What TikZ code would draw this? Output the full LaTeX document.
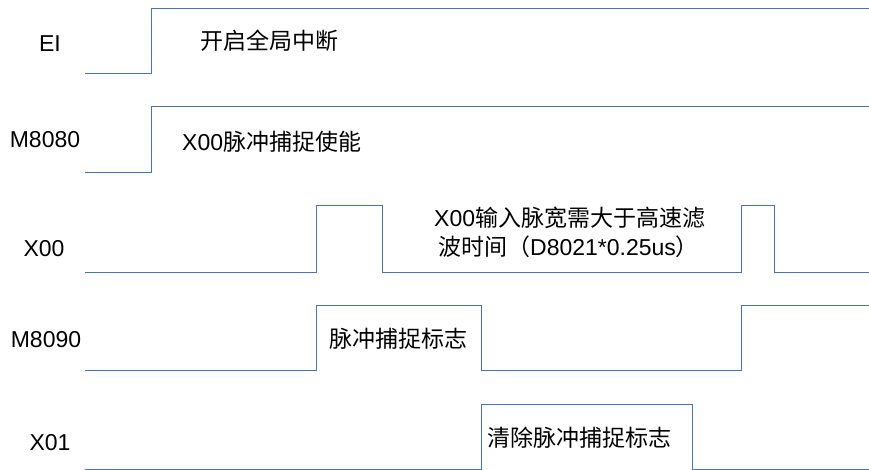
\documentclass[tikz,border=0pt]{standalone}
\usepackage{fontspec}
\setmainfont{Liberation Sans}
\newfontfamily\zhfont{Noto Sans CJK SC}
\newcommand{\zh}[1]{{\zhfont #1}}
\usepackage{tikz}
\usetikzlibrary{positioning}
\definecolor{waveblue}{RGB}{68,114,196}

\begin{document}
\begin{tikzpicture}[
        x=1pt, y=-1pt,
        wave/.style={draw=waveblue, line width=1pt},
        signame/.style={anchor=base, inner sep=0pt, font=\fontsize{23}{28}\selectfont},
        note/.style={anchor=base west, inner sep=0pt, font=\fontsize{23}{28}\selectfont}
    ]
        \useasboundingbox (0,0) rectangle (869,470);

        % Signal names
        \node[signame] (ei) at (50,52) {EI};
        \node[signame] (m8080) at (45,148) {M8080};
        \node[signame] (x00) at (44,256) {X00};
        \node[signame] (m8090) at (46,347) {M8090};
        \node[signame] (x01) at (50,450) {X01};

        % Waveforms
        \draw[wave] (85,74) -- (151,74) -- (151,9) -- (869,9);
        \draw[wave] (85,173) -- (151,173) -- (151,107) -- (869,107);
        \draw[wave] (85,272) -- (316,272) -- (316,206) -- (382,206) -- (382,272)
            -- (741,272) -- (741,206) -- (774,206) -- (774,272) -- (869,272);
        \draw[wave] (85,370) -- (316,370) -- (316,305) -- (481,305) -- (481,370)
            -- (741,370) -- (741,305) -- (869,305);
        \draw[wave] (85,469) -- (481,469) -- (481,404) -- (692,404) -- (692,469) -- (869,469);

        % Notes
        \node[note] (eitext) at (200,50) {\zh{开启全局中断}};
        \node[note] (m8080text) at (182,151) {X00\zh{脉冲捕捉使能}};
        \node[note] (x00text) at (434,227) {X00\zh{输入脉宽需大于高速滤}};
        \node[note] (x00text2) at (438,255) {\zh{波时间（}D8021*0.25us\zh{）}};
        \node[note] (m8090text) at (329,347) {\zh{脉冲捕捉标志}};
        \node[note] (x01text) at (487,446) {\zh{清除脉冲捕捉标志}};
    \end{tikzpicture}
\end{document}
